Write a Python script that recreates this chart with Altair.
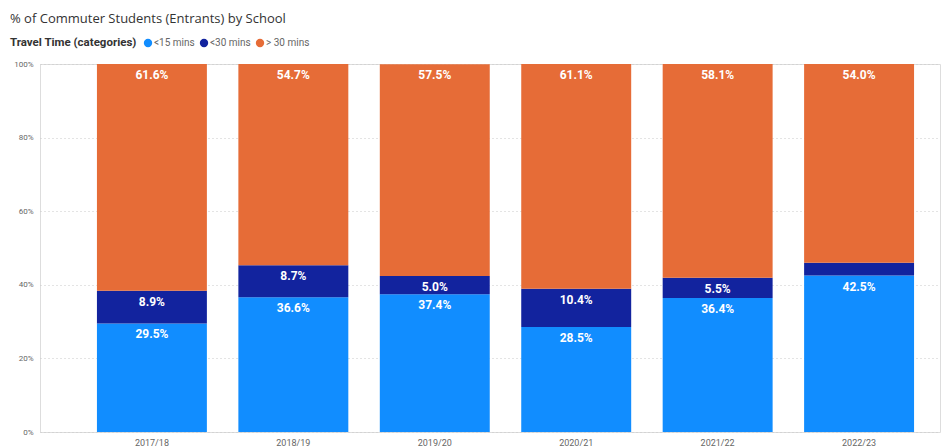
import altair as alt
import pandas as pd

years = ["2017/18", "2018/19", "2019/20", "2020/21", "2021/22", "2022/23"]
categories = ["<15 mins", "<30 mins", "> 30 mins"]
under15 = [29.5, 36.6, 37.4, 28.5, 36.4, 42.5]
under30 = [8.9, 8.7, 5.0, 10.4, 5.5, 3.5]
over30 = [61.6, 54.7, 57.5, 61.1, 58.1, 54.0]
colors = ["#118DFF", "#12239E", "#E66C37"]

rows = []
for i, y in enumerate(years):
    cum = 0.0
    for k, (cat, vals) in enumerate(zip(categories, [under15, under30, over30])):
        v = vals[i]
        rows.append({"year": y, "cat": cat, "ord": k, "value": v,
                     "top": cum + v, "label": f"{v:.1f}%", "show": v >= 4})
        cum += v
df = pd.DataFrame(rows)

font = "Roboto"

x = alt.X("year:N", sort=years, title=None,
          scale=alt.Scale(paddingInner=0.2226, paddingOuter=0.293, align=0.687),
          axis=alt.Axis(labelAngle=0, ticks=False, domain=False, labelColor="#666",
                        labelFontSize=9, labelFont=font, labelPadding=6, grid=False))

bars = alt.Chart(df).mark_bar().encode(
    x=x,
    y=alt.Y("value:Q", stack="zero", title=None,
            scale=alt.Scale(domain=[0, 100], nice=False),
            axis=alt.Axis(values=[0, 20, 40, 60, 80, 100], labelExpr="datum.value + '%'",
                          ticks=False, domain=False, labelColor="#666", labelFontSize=8,
                          labelFont=font, labelPadding=7, gridColor="#c8c8c8",
                          gridDash=[1, 3], gridWidth=1)),
    color=alt.Color("cat:N", scale=alt.Scale(domain=categories, range=colors),
                    legend=alt.Legend(title="Travel Time (categories)", orient="none",
                                      legendX=-30, legendY=-26, direction="horizontal",
                                      titleOrient="left", symbolType="circle",
                                      symbolSize=70, symbolStrokeWidth=0,
                                      titleFont=font, titleFontSize=11.5,
                                      titleFontWeight="bold", titleColor="#333",
                                      labelFont=font, labelFontSize=10,
                                      labelColor="#666", columnPadding=4,
                                      symbolOffset=0, labelOffset=1, titlePadding=6)),
    order=alt.Order("ord:Q"),
)

labels = alt.Chart(df).transform_filter("datum.show").mark_text(
    color="white", fontWeight="bold", fontSize=12, font=font, baseline="middle", dy=11
).encode(
    x=alt.X("year:N", sort=years),
    y=alt.Y("top:Q"),
    text="label:N",
)

chart = (bars + labels).properties(
    width=900, height=368,
    autosize=alt.AutoSizeParams(type="none"),
    padding={"left": 40, "top": 64, "right": 1, "bottom": 16},
    title=alt.TitleParams("% of Commuter Students (Entrants) by School", anchor="start",
                          frame="group", dx=-30, offset=12, font="Open Sans", fontSize=13,
                          fontWeight="normal", color="#333"),
).configure_view(stroke=None).configure(background="white")

chart.save("out.html", embed_options={"renderer": "svg", "actions": False})
